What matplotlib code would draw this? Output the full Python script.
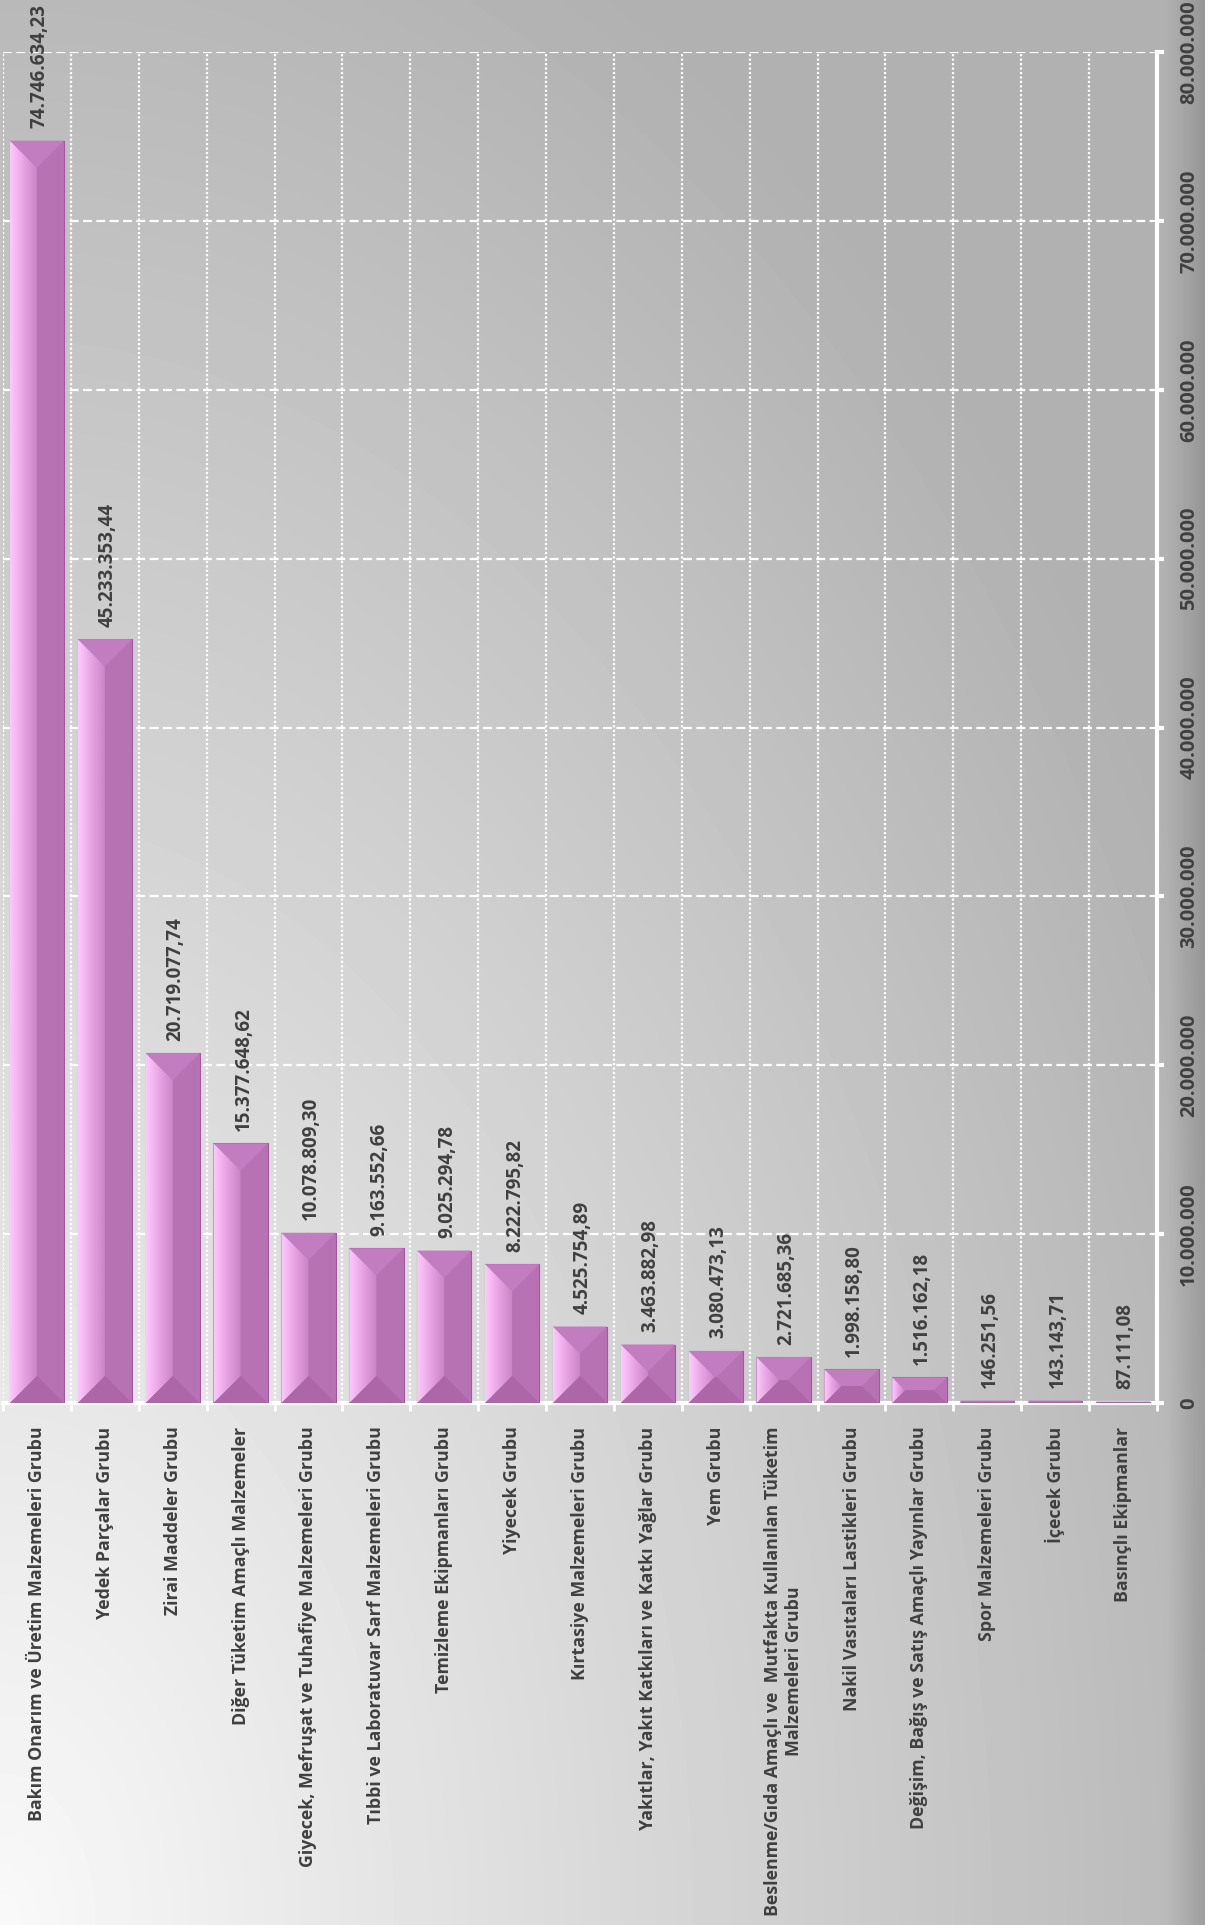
import numpy as np
import matplotlib.pyplot as plt
from matplotlib.patches import Polygon
from matplotlib.colors import LinearSegmentedColormap
from matplotlib.ticker import FuncFormatter, MultipleLocator

# Veriler
kategoriler = [
    'Bakım Onarım ve Üretim Malzemeleri Grubu',
    'Yedek Parçalar Grubu',
    'Zirai Maddeler Grubu',
    'Diğer Tüketim Amaçlı Malzemeler',
    'Giyecek, Mefruşat ve Tuhafiye Malzemeleri Grubu',
    'Tıbbi ve Laboratuvar Sarf Malzemeleri Grubu',
    'Temizleme Ekipmanları Grubu',
    'Yiyecek Grubu',
    'Kırtasiye Malzemeleri Grubu',
    'Yakıtlar, Yakıt Katkıları ve Katkı Yağlar Grubu',
    'Yem Grubu',
    'Beslenme/Gıda Amaçlı ve  Mutfakta Kullanılan Tüketim\nMalzemeleri Grubu',
    'Nakil Vasıtaları Lastikleri Grubu',
    'Değişim, Bağış ve Satış Amaçlı Yayınlar Grubu',
    'Spor Malzemeleri Grubu',
    'İçecek Grubu',
    'Basınçlı Ekipmanlar',
]
tutarlar = [74746634.23, 45233353.44, 20719077.74, 15377648.62, 10078809.30,
            9163552.66, 9025294.78, 8222795.82, 4525754.89, 3463882.98,
            3080473.13, 2721685.36, 1998158.80, 1516162.18, 146251.56,
            143143.71, 87111.08]
y_max = 80_000_000
y_adim = 10_000_000


def tr_sayi(v, ondalik=2):
    s = f"{v:,.{ondalik}f}"
    return s.replace(',', '#').replace('.', ',').replace('#', '.')


W, H = 1205, 1925
fig = plt.figure(figsize=(W / 100, H / 100), dpi=100)

# Arka plan degrade
bg = fig.add_axes([0, 0, 1, 1])
gx = np.linspace(0, 1, 241)
gy = np.linspace(1, 0, 385)
X, Y = np.meshgrid(gx, gy)
r = np.sqrt(X ** 2 + Y ** 2)
v = np.clip(249 - 64 * r, 177, 250)
v = v - np.clip((X - 0.97) / 0.03, 0, 1) * 26
bg.imshow(v, cmap='gray', vmin=0, vmax=255, extent=[0, 1, 0, 1],
          aspect='auto', interpolation='bilinear')
bg.axis('off')

# Ana eksen
sol, sag = 3 / W, 1157 / W
alt, ust = (H - 1403) / H, (H - 52) / H
ax = fig.add_axes([sol, alt, sag - sol, ust - alt])
ax.patch.set_alpha(0)

n = len(kategoriler)
x = np.arange(n)
cubuklar = ax.bar(x, tutarlar, width=0.8, color='#b672b2',
                  edgecolor='#9c5c9a', linewidth=0.8, zorder=3)

ax.set_xlim(-0.5, n - 0.5)
ax.set_ylim(0, y_max)

# pikselden veri birimine donusum
px_x = n / ((sag - sol) * W)
px_y = y_max / ((ust - alt) * H)

sol_cmap = LinearSegmentedColormap.from_list('sol', ['#ffc8ff', '#e6a2e2', '#c984c5'])
for c in cubuklar:
    x0, w, h = c.get_x(), c.get_width(), c.get_height()
    x1, y0, y1 = x0 + w, 0, h
    hw = w / 2
    d = hw / px_x * px_y          # 45 derece egim
    f = min(d, h / 2)
    e = hw * f / d
    yuz_sol = [(x0, y0), (x0, y1), (x0 + e, y1 - f), (x0 + e, y0 + f)]
    yuz_ust = [(x0, y1), (x1, y1), (x1 - e, y1 - f), (x0 + e, y1 - f)]
    yuz_alt = [(x1, y0), (x0, y0), (x0 + e, y0 + f), (x1 - e, y0 + f)]
    ax.add_patch(Polygon(yuz_ust, closed=True, facecolor='#c17dbf',
                         edgecolor='none', zorder=4))
    ax.add_patch(Polygon(yuz_alt, closed=True, facecolor='#ad66a8',
                         edgecolor='none', zorder=4))
    p = Polygon(yuz_sol, closed=True, facecolor='none', edgecolor='none', zorder=4)
    ax.add_patch(p)
    im = ax.imshow(np.linspace(0, 1, 32).reshape(1, -1), cmap=sol_cmap,
                   extent=[x0, x0 + max(e, 1e-6), y0, y1], aspect='auto',
                   interpolation='bilinear', zorder=4)
    im.set_clip_path(p)

ax.set_xlim(-0.5, n - 0.5)
ax.set_ylim(0, y_max)
ax.set_aspect('auto')

# Deger etiketleri
for c, v in zip(cubuklar, tutarlar):
    ax.annotate(tr_sayi(v), (c.get_x() + c.get_width() / 2, c.get_height()),
                xytext=(2, 9), textcoords='offset points', rotation=90,
                ha='center', va='bottom', fontsize=13.5, fontweight='bold',
                color='#404040', family='Open Sans', zorder=5)

# Eksenler
ax.yaxis.tick_right()
ax.yaxis.set_major_locator(MultipleLocator(y_adim))
ax.yaxis.set_major_formatter(FuncFormatter(lambda v, p: tr_sayi(v, 0)))
ax.tick_params(axis='y', which='major', direction='out', length=5, width=3,
               color='white', pad=11, labelsize=14.5, labelcolor='#404040',
               labelrotation=90)
for t in ax.get_yticklabels():
    t.set_fontweight('bold')
    t.set_family('Open Sans')
    t.set_va('center')

ax.set_xticks(x)
ax.set_xticklabels(kategoriler, rotation=90, fontsize=12.8, fontweight='bold',
                   color='#404040', family='Open Sans')
for t in ax.get_xticklabels():
    t.set_multialignment('center')
ax.set_xticks(np.arange(-0.5, n), minor=True)
ax.tick_params(axis='x', which='major', length=0, pad=17)
ax.tick_params(axis='x', which='minor', direction='out', length=6, width=2,
               color='white')

ax.grid(axis='y', which='major', color='white', linestyle=(0, (4, 2)), linewidth=1.6)
ax.grid(axis='x', which='minor', color='white', linestyle=(0, (1, 1)), linewidth=1.6)
ax.set_axisbelow(True)

for k in ['left', 'top']:
    ax.spines[k].set_visible(False)
for k in ['right', 'bottom']:
    ax.spines[k].set_color('white')
    ax.spines[k].set_linewidth(3)

fig.savefig('out.png', dpi=100)
